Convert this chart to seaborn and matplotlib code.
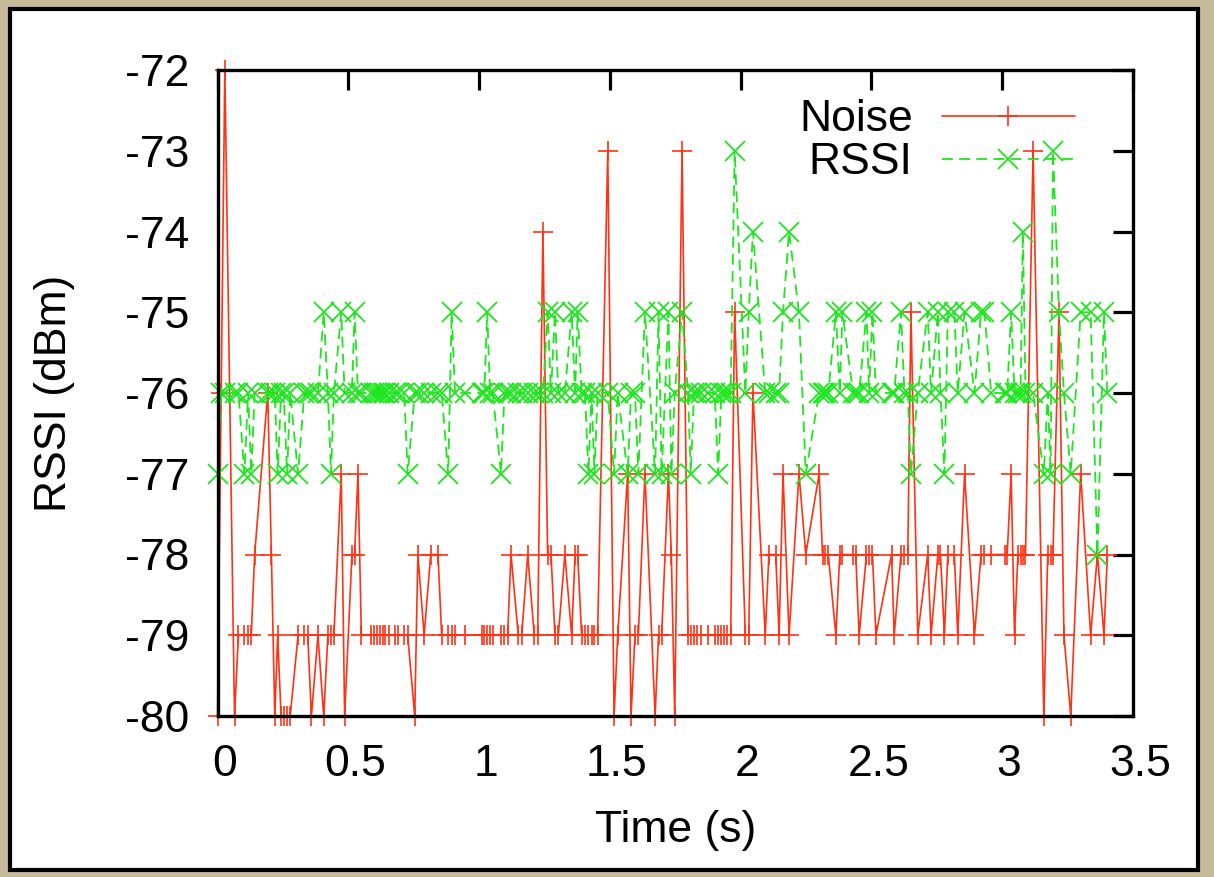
import matplotlib
matplotlib.use("Agg")
import matplotlib.pyplot as plt
import matplotlib.transforms as mtransforms
from matplotlib.patches import Rectangle
import pandas as pd
import seaborn as sns

# ---------------- data ----------------
time_s = [
    0.000, 0.014, 0.028, 0.065, 0.080, 0.103, 0.117, 0.129, 0.142, 0.192,
    0.206, 0.219, 0.230, 0.243, 0.253, 0.266, 0.278, 0.308, 0.332, 0.345,
    0.359, 0.384, 0.406, 0.422, 0.434, 0.445, 0.473, 0.486, 0.514, 0.524,
    0.537, 0.550, 0.588, 0.598, 0.610, 0.620, 0.631, 0.642, 0.654, 0.677,
    0.689, 0.714, 0.727, 0.754, 0.766, 0.790, 0.815, 0.843, 0.857, 0.882,
    0.895, 0.908, 0.946, 1.010, 1.020, 1.031, 1.042, 1.052, 1.084, 1.097,
    1.109, 1.122, 1.150, 1.163, 1.186, 1.211, 1.224, 1.244, 1.262, 1.275,
    1.290, 1.303, 1.328, 1.354, 1.367, 1.377, 1.392, 1.405, 1.418, 1.430,
    1.441, 1.453, 1.492, 1.516, 1.530, 1.568, 1.581, 1.596, 1.609, 1.634,
    1.673, 1.686, 1.698, 1.724, 1.735, 1.748, 1.776, 1.799, 1.809, 1.822,
    1.834, 1.847, 1.875, 1.901, 1.914, 1.926, 1.937, 1.949, 1.962, 1.977,
    2.018, 2.031, 2.047, 2.094, 2.108, 2.134, 2.147, 2.162, 2.185, 2.223,
    2.249, 2.300, 2.313, 2.322, 2.335, 2.364, 2.379, 2.389, 2.430, 2.440,
    2.453, 2.481, 2.491, 2.504, 2.517, 2.577, 2.587, 2.613, 2.626, 2.639,
    2.651, 2.677, 2.715, 2.728, 2.754, 2.764, 2.779, 2.792, 2.817, 2.830,
    2.856, 2.894, 2.919, 2.932, 2.958, 3.009, 3.019, 3.034, 3.047, 3.060,
    3.070, 3.079, 3.089, 3.118, 3.159, 3.174, 3.185, 3.194, 3.217, 3.236,
    3.262, 3.300, 3.338, 3.364, 3.389, 3.402,
]

noise_dbm = [
    -80, -76, -72, -80, -79, -79, -79, -79, -78, -76,
    -78, -80, -79, -80, -80, -80, -80, -79, -79, -79,
    -80, -79, -80, -79, -79, -79, -77, -80, -78, -78,
    -77, -79, -79, -79, -79, -79, -79, -79, -79, -79,
    -79, -79, -79, -80, -78, -79, -78, -78, -79, -79,
    -79, -79, -79, -79, -79, -79, -79, -79, -79, -79,
    -79, -78, -79, -79, -78, -79, -79, -74, -78, -78,
    -79, -79, -78, -79, -78, -78, -79, -79, -79, -79,
    -79, -79, -73, -80, -79, -77, -80, -79, -79, -77,
    -80, -79, -79, -77, -78, -80, -73, -79, -79, -79,
    -79, -79, -79, -79, -79, -79, -79, -79, -79, -75,
    -79, -79, -76, -79, -78, -78, -79, -77, -79, -77,
    -78, -77, -78, -78, -78, -79, -78, -78, -78, -78,
    -79, -78, -78, -78, -79, -78, -79, -78, -78, -78,
    -75, -79, -78, -79, -78, -78, -79, -78, -78, -79,
    -77, -79, -78, -78, -78, -78, -78, -77, -79, -78,
    -78, -78, -78, -73, -80, -78, -78, -78, -75, -79,
    -80, -77, -79, -78, -79, -78,
]

rssi_dbm = [
    -77, -76, -76, -76, -76, -77, -76, -77, -76, -76,
    -76, -76, -77, -76, -76, -77, -76, -77, -76, -76,
    -76, -76, -75, -76, -77, -76, -75, -76, -76, -75,
    -76, -76, -76, -76, -76, -76, -76, -76, -76, -76,
    -76, -76, -77, -76, -76, -76, -76, -76, -76, -77,
    -75, -76, -76, -76, -76, -75, -76, -76, -77, -76,
    -76, -76, -76, -76, -76, -76, -76, -76, -75, -76,
    -75, -76, -76, -75, -76, -75, -76, -76, -77, -76,
    -77, -76, -76, -77, -76, -77, -76, -76, -77, -75,
    -77, -75, -77, -75, -77, -76, -75, -76, -77, -76,
    -76, -76, -76, -76, -77, -76, -76, -76, -76, -73,
    -76, -75, -74, -76, -76, -76, -76, -75, -74, -75,
    -77, -76, -76, -76, -76, -75, -76, -75, -76, -76,
    -76, -75, -76, -75, -76, -76, -76, -75, -76, -76,
    -77, -76, -75, -76, -75, -76, -77, -75, -75, -76,
    -75, -76, -75, -75, -76, -76, -76, -75, -76, -76,
    -76, -74, -76, -76, -77, -76, -77, -73, -75, -76,
    -77, -75, -75, -78, -75, -76,
]

x_ticks = [0, 0.5, 1, 1.5, 2, 2.5, 3, 3.5]
x_tick_labels = ["0", "0.5", "1", "1.5", "2", "2.5", "3", "3.5"]
y_ticks = [-80, -79, -78, -77, -76, -75, -74, -73, -72]
y_tick_labels = ["-80", "-79", "-78", "-77", "-76", "-75", "-74", "-73", "-72"]

# ---------------- styling ----------------
sns.set_theme(style="white")
plt.rcParams["font.family"] = ["Liberation Sans", "DejaVu Sans"]
plt.rcParams["text.color"] = "black"

RED = "#ff3214"
GREEN = "#1ee61e"
FS = 32

W, H = 1214, 877
fig = plt.figure(figsize=(W / 100, H / 100), dpi=100)
fig.patch.set_facecolor("#c7bb99")
panel = Rectangle((10 / W, 1 - 870 / H), 1188 / W, 861 / H,
                  transform=fig.transFigure, facecolor="white",
                  edgecolor="black", linewidth=3, zorder=-1)
fig.add_artist(panel)

ax_l, ax_r, ax_t, ax_b = 217.5, 1133, 70, 716
ax = fig.add_axes([ax_l / W, 1 - ax_b / H, (ax_r - ax_l) / W, (ax_b - ax_t) / H])
ax.set_facecolor("white")

df = pd.DataFrame({"Time": time_s, "Noise": noise_dbm, "RSSI": rssi_dbm})

sns.lineplot(data=df, x="Time", y="Noise", ax=ax, color=RED, linewidth=1.2,
             marker="+", markersize=14, markeredgewidth=1.2,
             markeredgecolor=RED, label="Noise", estimator=None, sort=False,
             clip_on=False)
sns.lineplot(data=df, x="Time", y="RSSI", ax=ax, color=GREEN, linewidth=1.3,
             linestyle=(0, (6, 3.5)), marker="x", markersize=15,
             markeredgewidth=1.3, markeredgecolor=GREEN, label="RSSI",
             estimator=None, sort=False, clip_on=False)

ax.set_xlim(0, 3.5)
ax.set_ylim(-80, -72)
ax.set_xticks(x_ticks)
ax.set_xticklabels(x_tick_labels)
ax.set_yticks(y_ticks)
ax.set_yticklabels(y_tick_labels)
ax.tick_params(direction="in", length=14.5, width=2.3, top=True, right=True,
               labelsize=FS, pad=20, colors="black")
for sp in ax.spines.values():
    sp.set_visible(True)
    sp.set_linewidth(2.4)
    sp.set_color("black")

offset = mtransforms.ScaledTranslation(5 / 72, 0, fig.dpi_scale_trans)
for lab in ax.get_xticklabels():
    lab.set_transform(lab.get_transform() + offset)

ax.set_xlabel("Time (s)", fontsize=FS, color="black")
ax.xaxis.set_label_coords(0.5008, -0.1765)
ax.xaxis.label.set_va("center")
ax.set_ylabel("RSSI (dBm)", fontsize=FS, color="black")
ax.yaxis.set_label_coords(-0.1775, 0.5)
ax.yaxis.label.set_va("center")

ax.legend(loc="upper right", bbox_to_anchor=(0.9365, 0.955), frameon=False,
          markerfirst=False, handlelength=3.0, handletextpad=0.65,
          labelspacing=0.05, borderpad=0, borderaxespad=0, fontsize=FS,
          labelcolor="black")

fig.savefig("out.png", dpi=100, facecolor=fig.get_facecolor())
